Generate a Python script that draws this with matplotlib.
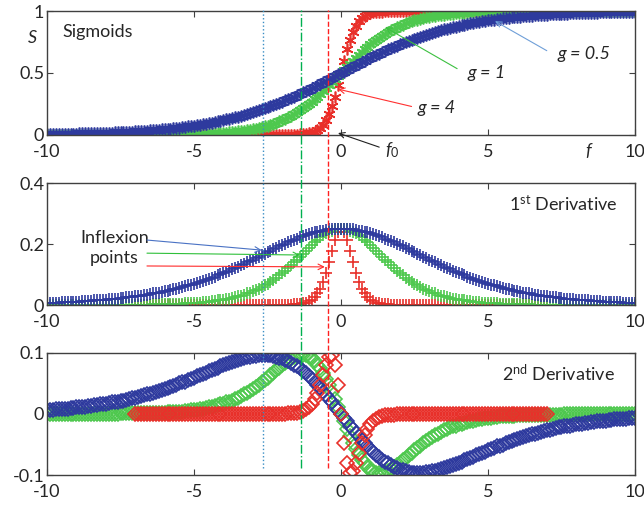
import numpy as np
import matplotlib
matplotlib.use('Agg')
import matplotlib.pyplot as plt
import matplotlib.transforms as mtransforms
from matplotlib.lines import Line2D

plt.rcParams['font.family'] = ['Lato', 'DejaVu Sans']
plt.rcParams['mathtext.fontset'] = 'custom'
plt.rcParams['mathtext.rm'] = 'Lato'
plt.rcParams['mathtext.it'] = 'Lato:italic'
plt.rcParams['axes.unicode_minus'] = False

# sample positions
f_wide = np.linspace(-10, 10, 201)   # g = 0.5 and g = 1
f_red = np.linspace(-7, 7, 141)      # g = 4

# ---- sigmoids ----
s_blue = [
    0.007, 0.007, 0.007, 0.008, 0.008, 0.009, 0.009, 0.009, 0.010, 0.010,
    0.011, 0.012, 0.012, 0.013, 0.013, 0.014, 0.015, 0.016, 0.016, 0.017,
    0.018, 0.019, 0.020, 0.021, 0.022, 0.023, 0.024, 0.025, 0.027, 0.028,
    0.029, 0.031, 0.032, 0.034, 0.036, 0.037, 0.039, 0.041, 0.043, 0.045,
    0.047, 0.050, 0.052, 0.055, 0.057, 0.060, 0.063, 0.066, 0.069, 0.072,
    0.076, 0.079, 0.083, 0.087, 0.091, 0.095, 0.100, 0.104, 0.109, 0.114,
    0.119, 0.125, 0.130, 0.136, 0.142, 0.148, 0.154, 0.161, 0.168, 0.175,
    0.182, 0.190, 0.198, 0.206, 0.214, 0.223, 0.231, 0.240, 0.250, 0.259,
    0.269, 0.279, 0.289, 0.299, 0.310, 0.321, 0.332, 0.343, 0.354, 0.366,
    0.378, 0.389, 0.401, 0.413, 0.426, 0.438, 0.450, 0.463, 0.475, 0.488,
    0.500,
    0.512, 0.525, 0.537, 0.550, 0.562, 0.574, 0.587, 0.599, 0.611, 0.622,
    0.634, 0.646, 0.657, 0.668, 0.679, 0.690, 0.701, 0.711, 0.721, 0.731,
    0.741, 0.750, 0.760, 0.769, 0.777, 0.786, 0.794, 0.802, 0.810, 0.818,
    0.825, 0.832, 0.839, 0.846, 0.852, 0.858, 0.864, 0.870, 0.875, 0.881,
    0.886, 0.891, 0.896, 0.900, 0.905, 0.909, 0.913, 0.917, 0.921, 0.924,
    0.928, 0.931, 0.934, 0.937, 0.940, 0.943, 0.945, 0.948, 0.950, 0.953,
    0.955, 0.957, 0.959, 0.961, 0.963, 0.964, 0.966, 0.968, 0.969, 0.971,
    0.972, 0.973, 0.975, 0.976, 0.977, 0.978, 0.979, 0.980, 0.981, 0.982,
    0.983, 0.984, 0.984, 0.985, 0.986, 0.987, 0.987, 0.988, 0.988, 0.989,
    0.990, 0.990, 0.991, 0.991, 0.991, 0.992, 0.992, 0.993, 0.993, 0.993]
s_green = [
    0.000, 0.000, 0.000, 0.000, 0.000, 0.000, 0.000, 0.000, 0.000, 0.000,
    0.000, 0.000, 0.000, 0.000, 0.000, 0.000, 0.000, 0.000, 0.000, 0.000,
    0.000, 0.000, 0.000, 0.000, 0.000, 0.001, 0.001, 0.001, 0.001, 0.001,
    0.001, 0.001, 0.001, 0.001, 0.001, 0.002, 0.002, 0.002, 0.002, 0.002,
    0.002, 0.003, 0.003, 0.003, 0.004, 0.004, 0.004, 0.005, 0.005, 0.006,
    0.007, 0.007, 0.008, 0.009, 0.010, 0.011, 0.012, 0.013, 0.015, 0.016,
    0.018, 0.020, 0.022, 0.024, 0.027, 0.029, 0.032, 0.036, 0.039, 0.043,
    0.047, 0.052, 0.057, 0.063, 0.069, 0.076, 0.083, 0.091, 0.100, 0.109,
    0.119, 0.130, 0.142, 0.154, 0.168, 0.182, 0.198, 0.214, 0.231, 0.250,
    0.269, 0.289, 0.310, 0.332, 0.354, 0.378, 0.401, 0.426, 0.450, 0.475,
    0.500,
    0.525, 0.550, 0.574, 0.599, 0.622, 0.646, 0.668, 0.690, 0.711, 0.731,
    0.750, 0.769, 0.786, 0.802, 0.818, 0.832, 0.846, 0.858, 0.870, 0.881,
    0.891, 0.900, 0.909, 0.917, 0.924, 0.931, 0.937, 0.943, 0.948, 0.953,
    0.957, 0.961, 0.964, 0.968, 0.971, 0.973, 0.976, 0.978, 0.980, 0.982,
    0.984, 0.985, 0.987, 0.988, 0.989, 0.990, 0.991, 0.992, 0.993, 0.993,
    0.994, 0.995, 0.995, 0.996, 0.996, 0.996, 0.997, 0.997, 0.997, 0.998,
    0.998, 0.998, 0.998, 0.998, 0.998, 0.999, 0.999, 0.999, 0.999, 0.999,
    0.999, 0.999, 0.999, 0.999, 0.999, 1.000, 1.000, 1.000, 1.000, 1.000,
    1.000, 1.000, 1.000, 1.000, 1.000, 1.000, 1.000, 1.000, 1.000, 1.000,
    1.000, 1.000, 1.000, 1.000, 1.000, 1.000, 1.000, 1.000, 1.000, 1.000]
s_red = [
    0.000, 0.000, 0.000, 0.000, 0.000, 0.000, 0.000, 0.000, 0.000, 0.000,
    0.000, 0.000, 0.000, 0.000, 0.000, 0.000, 0.000, 0.000, 0.000, 0.000,
    0.000, 0.000, 0.000, 0.000, 0.000, 0.000, 0.000, 0.000, 0.000, 0.000,
    0.000, 0.000, 0.000, 0.000, 0.000, 0.000, 0.000, 0.000, 0.000, 0.000,
    0.000, 0.000, 0.000, 0.000, 0.000, 0.000, 0.000, 0.000, 0.000, 0.000,
    0.000, 0.000, 0.001, 0.001, 0.002, 0.002, 0.004, 0.005, 0.008, 0.012,
    0.018, 0.027, 0.039, 0.057, 0.083, 0.119, 0.168, 0.231, 0.310, 0.401,
    0.500,
    0.599, 0.690, 0.769, 0.832, 0.881, 0.917, 0.943, 0.961, 0.973, 0.982,
    0.988, 0.992, 0.995, 0.996, 0.998, 0.998, 0.999, 0.999, 1.000, 1.000,
    1.000, 1.000, 1.000, 1.000, 1.000, 1.000, 1.000, 1.000, 1.000, 1.000,
    1.000, 1.000, 1.000, 1.000, 1.000, 1.000, 1.000, 1.000, 1.000, 1.000,
    1.000, 1.000, 1.000, 1.000, 1.000, 1.000, 1.000, 1.000, 1.000, 1.000,
    1.000, 1.000, 1.000, 1.000, 1.000, 1.000, 1.000, 1.000, 1.000, 1.000,
    1.000, 1.000, 1.000, 1.000, 1.000, 1.000, 1.000, 1.000, 1.000, 1.000]

# ---- 1st derivative ----
d1_blue = [
    0.007, 0.007, 0.007, 0.008, 0.008, 0.009, 0.009, 0.009, 0.010, 0.010,
    0.011, 0.011, 0.012, 0.013, 0.013, 0.014, 0.015, 0.015, 0.016, 0.017,
    0.018, 0.019, 0.019, 0.020, 0.021, 0.022, 0.024, 0.025, 0.026, 0.027,
    0.028, 0.030, 0.031, 0.033, 0.034, 0.036, 0.038, 0.039, 0.041, 0.043,
    0.045, 0.047, 0.049, 0.052, 0.054, 0.056, 0.059, 0.062, 0.064, 0.067,
    0.070, 0.073, 0.076, 0.079, 0.083, 0.086, 0.090, 0.093, 0.097, 0.101,
    0.105, 0.109, 0.113, 0.117, 0.122, 0.126, 0.131, 0.135, 0.140, 0.144,
    0.149, 0.154, 0.159, 0.163, 0.168, 0.173, 0.178, 0.183, 0.187, 0.192,
    0.197, 0.201, 0.206, 0.210, 0.214, 0.218, 0.222, 0.225, 0.229, 0.232,
    0.235, 0.238, 0.240, 0.242, 0.244, 0.246, 0.248, 0.249, 0.249, 0.250,
    0.250,
    0.250, 0.249, 0.249, 0.248, 0.246, 0.244, 0.242, 0.240, 0.238, 0.235,
    0.232, 0.229, 0.225, 0.222, 0.218, 0.214, 0.210, 0.206, 0.201, 0.197,
    0.192, 0.187, 0.183, 0.178, 0.173, 0.168, 0.163, 0.159, 0.154, 0.149,
    0.144, 0.140, 0.135, 0.131, 0.126, 0.122, 0.117, 0.113, 0.109, 0.105,
    0.101, 0.097, 0.093, 0.090, 0.086, 0.083, 0.079, 0.076, 0.073, 0.070,
    0.067, 0.064, 0.062, 0.059, 0.056, 0.054, 0.052, 0.049, 0.047, 0.045,
    0.043, 0.041, 0.039, 0.038, 0.036, 0.034, 0.033, 0.031, 0.030, 0.028,
    0.027, 0.026, 0.025, 0.024, 0.022, 0.021, 0.020, 0.019, 0.019, 0.018,
    0.017, 0.016, 0.015, 0.015, 0.014, 0.013, 0.013, 0.012, 0.011, 0.011,
    0.010, 0.010, 0.009, 0.009, 0.009, 0.008, 0.008, 0.007, 0.007, 0.007]
d1_green = [
    0.000, 0.000, 0.000, 0.000, 0.000, 0.000, 0.000, 0.000, 0.000, 0.000,
    0.000, 0.000, 0.000, 0.000, 0.000, 0.000, 0.000, 0.000, 0.000, 0.000,
    0.000, 0.000, 0.000, 0.000, 0.000, 0.001, 0.001, 0.001, 0.001, 0.001,
    0.001, 0.001, 0.001, 0.001, 0.001, 0.001, 0.002, 0.002, 0.002, 0.002,
    0.002, 0.003, 0.003, 0.003, 0.004, 0.004, 0.004, 0.005, 0.005, 0.006,
    0.007, 0.007, 0.008, 0.009, 0.010, 0.011, 0.012, 0.013, 0.015, 0.016,
    0.018, 0.019, 0.021, 0.024, 0.026, 0.028, 0.031, 0.034, 0.038, 0.041,
    0.045, 0.049, 0.054, 0.059, 0.064, 0.070, 0.076, 0.083, 0.090, 0.097,
    0.105, 0.113, 0.122, 0.131, 0.140, 0.149, 0.159, 0.168, 0.178, 0.187,
    0.197, 0.206, 0.214, 0.222, 0.229, 0.235, 0.240, 0.244, 0.248, 0.249,
    0.250,
    0.249, 0.248, 0.244, 0.240, 0.235, 0.229, 0.222, 0.214, 0.206, 0.197,
    0.187, 0.178, 0.168, 0.159, 0.149, 0.140, 0.131, 0.122, 0.113, 0.105,
    0.097, 0.090, 0.083, 0.076, 0.070, 0.064, 0.059, 0.054, 0.049, 0.045,
    0.041, 0.038, 0.034, 0.031, 0.028, 0.026, 0.024, 0.021, 0.019, 0.018,
    0.016, 0.015, 0.013, 0.012, 0.011, 0.010, 0.009, 0.008, 0.007, 0.007,
    0.006, 0.005, 0.005, 0.004, 0.004, 0.004, 0.003, 0.003, 0.003, 0.002,
    0.002, 0.002, 0.002, 0.002, 0.001, 0.001, 0.001, 0.001, 0.001, 0.001,
    0.001, 0.001, 0.001, 0.001, 0.001, 0.000, 0.000, 0.000, 0.000, 0.000,
    0.000, 0.000, 0.000, 0.000, 0.000, 0.000, 0.000, 0.000, 0.000, 0.000,
    0.000, 0.000, 0.000, 0.000, 0.000, 0.000, 0.000, 0.000, 0.000, 0.000]
d1_red = [
    0.000, 0.000, 0.000, 0.000, 0.000, 0.000, 0.000, 0.000, 0.000, 0.000,
    0.000, 0.000, 0.000, 0.000, 0.000, 0.000, 0.000, 0.000, 0.000, 0.000,
    0.000, 0.000, 0.000, 0.000, 0.000, 0.000, 0.000, 0.000, 0.000, 0.000,
    0.000, 0.000, 0.000, 0.000, 0.000, 0.000, 0.000, 0.000, 0.000, 0.000,
    0.000, 0.000, 0.000, 0.000, 0.000, 0.000, 0.000, 0.000, 0.000, 0.000,
    0.000, 0.000, 0.001, 0.001, 0.002, 0.002, 0.004, 0.005, 0.008, 0.012,
    0.018, 0.026, 0.038, 0.054, 0.076, 0.105, 0.140, 0.178, 0.214, 0.240,
    0.250,
    0.240, 0.214, 0.178, 0.140, 0.105, 0.076, 0.054, 0.038, 0.026, 0.018,
    0.012, 0.008, 0.005, 0.004, 0.002, 0.002, 0.001, 0.001, 0.000, 0.000,
    0.000, 0.000, 0.000, 0.000, 0.000, 0.000, 0.000, 0.000, 0.000, 0.000,
    0.000, 0.000, 0.000, 0.000, 0.000, 0.000, 0.000, 0.000, 0.000, 0.000,
    0.000, 0.000, 0.000, 0.000, 0.000, 0.000, 0.000, 0.000, 0.000, 0.000,
    0.000, 0.000, 0.000, 0.000, 0.000, 0.000, 0.000, 0.000, 0.000, 0.000,
    0.000, 0.000, 0.000, 0.000, 0.000, 0.000, 0.000, 0.000, 0.000, 0.000]

# ---- 2nd derivative ----
d2_blue = [
    0.007, 0.007, 0.007, 0.008, 0.008, 0.008, 0.009, 0.009, 0.010, 0.010,
    0.011, 0.011, 0.012, 0.012, 0.013, 0.013, 0.014, 0.015, 0.016, 0.016,
    0.017, 0.018, 0.019, 0.020, 0.020, 0.021, 0.022, 0.023, 0.025, 0.026,
    0.027, 0.028, 0.029, 0.031, 0.032, 0.033, 0.035, 0.036, 0.038, 0.039,
    0.041, 0.043, 0.044, 0.046, 0.048, 0.050, 0.052, 0.053, 0.055, 0.057,
    0.059, 0.062, 0.064, 0.066, 0.068, 0.070, 0.072, 0.074, 0.076, 0.078,
    0.080, 0.082, 0.084, 0.086, 0.087, 0.089, 0.090, 0.092, 0.093, 0.094,
    0.095, 0.095, 0.096, 0.096, 0.096, 0.096, 0.096, 0.095, 0.094, 0.092,
    0.091, 0.089, 0.087, 0.084, 0.081, 0.078, 0.075, 0.071, 0.067, 0.062,
    0.058, 0.053, 0.047, 0.042, 0.036, 0.031, 0.025, 0.019, 0.012, 0.006,
    0.000,
    -0.006, -0.012, -0.019, -0.025, -0.031, -0.036, -0.042, -0.047, -0.053, -0.058,
    -0.062, -0.067, -0.071, -0.075, -0.078, -0.081, -0.084, -0.087, -0.089, -0.091,
    -0.092, -0.094, -0.095, -0.096, -0.096, -0.096, -0.096, -0.096, -0.095, -0.095,
    -0.094, -0.093, -0.092, -0.090, -0.089, -0.087, -0.086, -0.084, -0.082, -0.080,
    -0.078, -0.076, -0.074, -0.072, -0.070, -0.068, -0.066, -0.064, -0.062, -0.059,
    -0.057, -0.055, -0.053, -0.052, -0.050, -0.048, -0.046, -0.044, -0.043, -0.041,
    -0.039, -0.038, -0.036, -0.035, -0.033, -0.032, -0.031, -0.029, -0.028, -0.027,
    -0.026, -0.025, -0.023, -0.022, -0.021, -0.020, -0.020, -0.019, -0.018, -0.017,
    -0.016, -0.016, -0.015, -0.014, -0.013, -0.013, -0.012, -0.012, -0.011, -0.011,
    -0.010, -0.010, -0.009, -0.009, -0.008, -0.008, -0.008, -0.007, -0.007, -0.007]
d2_green = [
    0.000, 0.000, 0.000, 0.000, 0.000, 0.000, 0.000, 0.000, 0.000, 0.000,
    0.000, 0.000, 0.000, 0.000, 0.000, 0.000, 0.000, 0.000, 0.000, 0.000,
    0.000, 0.000, 0.000, 0.000, 0.000, 0.001, 0.001, 0.001, 0.001, 0.001,
    0.001, 0.001, 0.001, 0.001, 0.001, 0.001, 0.002, 0.002, 0.002, 0.002,
    0.002, 0.003, 0.003, 0.003, 0.004, 0.004, 0.004, 0.005, 0.005, 0.006,
    0.007, 0.007, 0.008, 0.009, 0.010, 0.011, 0.012, 0.013, 0.014, 0.016,
    0.017, 0.019, 0.020, 0.022, 0.025, 0.027, 0.029, 0.032, 0.035, 0.038,
    0.041, 0.044, 0.048, 0.052, 0.055, 0.059, 0.064, 0.068, 0.072, 0.076,
    0.080, 0.084, 0.087, 0.090, 0.093, 0.095, 0.096, 0.096, 0.096, 0.094,
    0.091, 0.087, 0.081, 0.075, 0.067, 0.058, 0.047, 0.036, 0.025, 0.012,
    0.000,
    -0.012, -0.025, -0.036, -0.047, -0.058, -0.067, -0.075, -0.081, -0.087, -0.091,
    -0.094, -0.096, -0.096, -0.096, -0.095, -0.093, -0.090, -0.087, -0.084, -0.080,
    -0.076, -0.072, -0.068, -0.064, -0.059, -0.055, -0.052, -0.048, -0.044, -0.041,
    -0.038, -0.035, -0.032, -0.029, -0.027, -0.025, -0.022, -0.020, -0.019, -0.017,
    -0.016, -0.014, -0.013, -0.012, -0.011, -0.010, -0.009, -0.008, -0.007, -0.007,
    -0.006, -0.005, -0.005, -0.004, -0.004, -0.004, -0.003, -0.003, -0.003, -0.002,
    -0.002, -0.002, -0.002, -0.002, -0.001, -0.001, -0.001, -0.001, -0.001, -0.001,
    -0.001, -0.001, -0.001, -0.001, -0.001, 0.000, 0.000, 0.000, 0.000, 0.000,
    0.000, 0.000, 0.000, 0.000, 0.000, 0.000, 0.000, 0.000, 0.000, 0.000,
    0.000, 0.000, 0.000, 0.000, 0.000, 0.000, 0.000, 0.000, 0.000, 0.000]
d2_red = [
    0.000, 0.000, 0.000, 0.000, 0.000, 0.000, 0.000, 0.000, 0.000, 0.000,
    0.000, 0.000, 0.000, 0.000, 0.000, 0.000, 0.000, 0.000, 0.000, 0.000,
    0.000, 0.000, 0.000, 0.000, 0.000, 0.000, 0.000, 0.000, 0.000, 0.000,
    0.000, 0.000, 0.000, 0.000, 0.000, 0.000, 0.000, 0.000, 0.000, 0.000,
    0.000, 0.000, 0.000, 0.000, 0.000, 0.000, 0.000, 0.000, 0.000, 0.000,
    0.000, 0.000, 0.001, 0.001, 0.002, 0.002, 0.004, 0.005, 0.008, 0.012,
    0.017, 0.025, 0.035, 0.048, 0.064, 0.080, 0.093, 0.096, 0.081, 0.047,
    0.000,
    -0.047, -0.081, -0.096, -0.093, -0.080, -0.064, -0.048, -0.035, -0.025, -0.017,
    -0.012, -0.008, -0.005, -0.004, -0.002, -0.002, -0.001, -0.001, 0.000, 0.000,
    0.000, 0.000, 0.000, 0.000, 0.000, 0.000, 0.000, 0.000, 0.000, 0.000,
    0.000, 0.000, 0.000, 0.000, 0.000, 0.000, 0.000, 0.000, 0.000, 0.000,
    0.000, 0.000, 0.000, 0.000, 0.000, 0.000, 0.000, 0.000, 0.000, 0.000,
    0.000, 0.000, 0.000, 0.000, 0.000, 0.000, 0.000, 0.000, 0.000, 0.000,
    0.000, 0.000, 0.000, 0.000, 0.000, 0.000, 0.000, 0.000, 0.000, 0.000]

# inflexion positions (vertical guide lines)
inflex_f = [-2.65, -1.37, -0.44]

BLUE = '#2e3a9e'
GREEN = '#4ec84e'
RED = '#e8302a'
TXT = '#262626'
asterisk = (6, 2, 0)

fig = plt.figure(figsize=(6.44, 5.05), dpi=100)
ax1 = fig.add_axes([0.073, 0.7327, 0.913, 0.2455])
ax2 = fig.add_axes([0.073, 0.396, 0.913, 0.2416])
ax3 = fig.add_axes([0.073, 0.0594, 0.913, 0.2416])

mk = dict(ls='none', mew=1.2)
ax1.plot(f_red, s_red, marker=asterisk, ms=8.5, color=RED, **mk)
ax1.plot(f_wide, s_green, marker=asterisk, ms=8.5, color=GREEN, **mk)
ax1.plot(f_wide, s_blue, marker=asterisk, ms=8.5, color=BLUE, **mk)

ax2.plot(f_red, d1_red, marker='+', ms=9, color=RED, **mk)
ax2.plot(f_wide, d1_green, marker='+', ms=9, color=GREEN, **mk)
ax2.plot(f_wide, d1_blue, marker='+', ms=9, color=BLUE, **mk)

ax3.plot(f_wide, d2_green, marker='D', ms=7, mfc='none', color=GREEN, **mk)
ax3.plot(f_wide, d2_blue, marker='D', ms=7, mfc='none', color=BLUE, **mk)
ax3.plot(f_red, d2_red, marker='D', ms=7, mfc='none', color=RED, **mk)

for ax, lim, ticks in [(ax1, (0, 1), [0, 0.5, 1]),
                       (ax2, (0, 0.4), [0, 0.2, 0.4]),
                       (ax3, (-0.1, 0.1), [-0.1, 0, 0.1])]:
    ax.set_xlim(-10, 10)
    ax.set_ylim(*lim)
    ax.set_xticks([-10, -5, 0, 5, 10])
    ax.set_yticks(ticks)
    ax.set_yticklabels([f'{t:g}' for t in ticks])
    ax.tick_params(direction='in', top=True, right=True, length=4, width=0.8,
                   labelsize=13, colors='#404040', labelcolor=TXT)
    ax.tick_params(axis='x', pad=6.5)
    ax.tick_params(axis='y', pad=2)
    for sp in ax.spines.values():
        sp.set_color('#404040')
        sp.set_linewidth(1.0)

# panel titles
ax1.text(0.026, 0.83, 'Sigmoids', transform=ax1.transAxes, fontsize=13,
         color=TXT, va='center', ha='left')
ax2.text(0.97, 0.835, r'1$^{\mathrm{st}}$ Derivative', transform=ax2.transAxes,
         fontsize=13, color=TXT, va='center', ha='right')
ax3.text(0.966, 0.835, r'2$^{\mathrm{nd}}$ Derivative', transform=ax3.transAxes,
         fontsize=13, color=TXT, va='center', ha='right')

fig.text(32 / 644, 1 - 38 / 505, 'S', fontsize=13, style='italic', color=TXT,
         ha='center', va='center')
fig.text(588 / 644, 1 - 151 / 505, 'f', fontsize=13, style='italic', color=TXT,
         ha='center', va='center')

# sigmoid annotations
arr = dict(arrowstyle='->', lw=0.8, shrinkA=0, shrinkB=0)
ax1.annotate('', xy=(5.24, 0.918), xytext=(7.0, 0.68),
             arrowprops=dict(arr, color='#6f9fd8'))
ax1.text(8.25, 0.655, 'g = 0.5', fontsize=13, style='italic', color=TXT,
         ha='center', va='center')
ax1.annotate('', xy=(1.5, 0.869), xytext=(3.95, 0.535),
             arrowprops=dict(arr, color='#3cc040'))
ax1.text(4.95, 0.5, 'g = 1', fontsize=13, style='italic', color=TXT,
         ha='center', va='center')
ax1.annotate('', xy=(-0.1, 0.37), xytext=(2.4, 0.23),
             arrowprops=dict(arr, color='#ff3030'))
ax1.text(3.25, 0.22, 'g = 4', fontsize=13, style='italic', color=TXT,
         ha='center', va='center')
ax1.annotate('', xy=(-0.1, 0.016), xytext=(1.3, -0.098),
             arrowprops=dict(arr, color='#202020'), annotation_clip=False)
ax1.text(1.75, -0.125, r'$f_{\mathrm{0}}$', fontsize=13, color=TXT,
         ha='center', va='center', clip_on=False)

# inflexion annotation
ax2.text(-7.7, 0.187, 'Inflexion\npoints', fontsize=13, color=TXT,
         ha='center', va='center', linespacing=1.3)
ax2.annotate('', xy=(-2.7, 0.180), xytext=(-6.6, 0.213),
             arrowprops=dict(arr, color='#4a72c4'))
ax2.annotate('', xy=(-1.4, 0.164), xytext=(-6.6, 0.170),
             arrowprops=dict(arr, color='#2fc03a'))
ax2.annotate('', xy=(-0.55, 0.125), xytext=(-6.6, 0.128),
             arrowprops=dict(arr, color='#ff2a2a'))

# vertical guide lines through all panels
trans = mtransforms.blended_transform_factory(ax1.transData, fig.transFigure)
y_top, y_bot = 1 - 10 / 505, 1 - 468 / 505
for fx, col, ls in zip(inflex_f, ['#3a8ec4', '#00b050', '#ff2020'], [':', '-.', '--']):
    fig.add_artist(Line2D([fx, fx], [y_bot, y_top], transform=trans,
                          color=col, ls=ls, lw=1.0, zorder=5))

fig.savefig('out.png', dpi=100)
